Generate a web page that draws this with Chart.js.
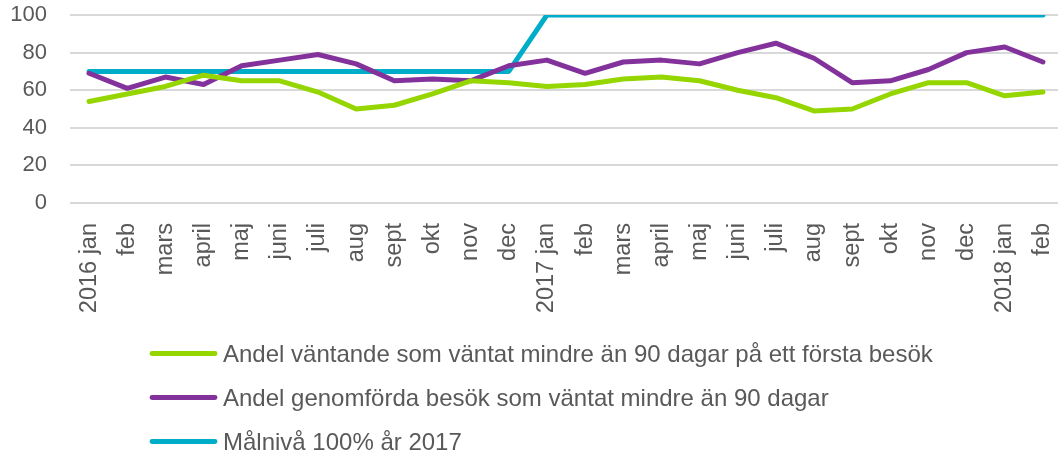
<!DOCTYPE html>
<html>
<head>
<meta charset="utf-8">
<script src="https://cdn.jsdelivr.net/npm/chart.js@4.4.1/dist/chart.umd.min.js"></script>
<style>
  html, body { margin: 0; padding: 0; background: #ffffff; overflow: hidden; }
  #wrap { position: absolute; left: 0; top: 0; width: 1062px; height: 455px; }
</style>
</head>
<body>
<div id="wrap"><canvas id="c"></canvas></div>
<script>
const categories = ["2016 jan","feb","mars","april","maj","juni","juli","aug","sept","okt","nov","dec",
                    "2017 jan","feb","mars","april","maj","juni","juli","aug","sept","okt","nov","dec",
                    "2018 jan","feb"];
const seriesNames = [
  "Andel väntande som väntat mindre än 90 dagar på ett första besök",
  "Andel genomförda besök som väntat mindre än 90 dagar",
  "Målnivå 100% år 2017"
];
const vantande = [54, 58, 62, 68, 65, 65, 59, 50, 52, 58, 65, 64,
                  62, 63, 66, 67, 65, 60, 56, 49, 50, 58, 64, 64, 57, 59];
const genomforda = [69, 61, 67, 63, 73, 76, 79, 74, 65, 66, 65, 73,
                    76, 69, 75, 76, 74, 80, 85, 77, 64, 65, 71, 80, 83, 75];
const malniva = [70, 70, 70, 70, 70, 70, 70, 70, 70, 70, 70, 70,
                 100, 100, 100, 100, 100, 100, 100, 100, 100, 100, 100, 100, 100, 100];
const yTicks = [0, 20, 40, 60, 80, 100];

const colors = ["#95d500", "#84329b", "#00adc8"];
const textColor = "#595959";
const fontFamily = "'Liberation Sans', Arial, sans-serif";

const legendPlugin = {
  id: 'vlegend',
  afterDraw(chart) {
    const ctx = chart.ctx;
    ctx.save();
    chart.data.datasets.forEach((ds, i) => {
      const y = 353.5 + i * 44;
      ctx.strokeStyle = ds.borderColor;
      ctx.lineWidth = 4.8;
      ctx.lineCap = 'round';
      ctx.beginPath();
      ctx.moveTo(152, y);
      ctx.lineTo(215, y);
      ctx.stroke();
      ctx.fillStyle = textColor;
      ctx.font = "24px " + fontFamily;
      ctx.textBaseline = 'alphabetic';
      ctx.textAlign = 'left';
      ctx.fillText(ds.label, 223, y + 8.5);
    });
    ctx.restore();
  }
};

const mk = (label, data, color) => ({
  label, data,
  borderColor: color,
  backgroundColor: color,
  borderWidth: 5,
  borderJoinStyle: 'round',
  borderCapStyle: 'round',
  pointRadius: 0,
  pointHoverRadius: 0,
  tension: 0,
  fill: false
});

new Chart(document.getElementById('c'), {
  type: 'line',
  data: {
    labels: categories,
    datasets: [
      mk(seriesNames[0], vantande, colors[0]),
      mk(seriesNames[1], genomforda, colors[1]),
      mk(seriesNames[2], malniva, colors[2])
    ]
  },
  options: {
    responsive: true,
    maintainAspectRatio: false,
    animation: false,
    layout: { padding: { left: 10, top: 15, right: 0, bottom: 140 } },
    plugins: {
      legend: { display: false },
      tooltip: { enabled: false }
    },
    scales: {
      x: {
        offset: true,
        grid: { display: false, drawTicks: false },
        border: { display: false },
        afterFit(scale) {
          scale.height = 112;
          scale.paddingLeft = 0;
          scale.paddingRight = 0;
        },
        ticks: {
          autoSkip: false,
          minRotation: 90,
          maxRotation: 90,
          padding: 20,
          color: textColor,
          font: { family: fontFamily, size: 23.5 }
        }
      },
      y: {
        min: 0,
        max: 100,
        afterBuildTicks(axis) { axis.ticks = yTicks.map(v => ({ value: v })); },
        afterFit(scale) {
          scale.width = 60;
          scale.paddingTop = 0;
          scale.paddingBottom = 0;
        },
        grid: { color: '#d9d9d9', lineWidth: 2, drawTicks: false },
        border: { display: false },
        ticks: {
          padding: 23,
          color: textColor,
          font: { family: fontFamily, size: 22 }
        }
      }
    }
  },
  plugins: [legendPlugin]
});
</script>
</body>
</html>
